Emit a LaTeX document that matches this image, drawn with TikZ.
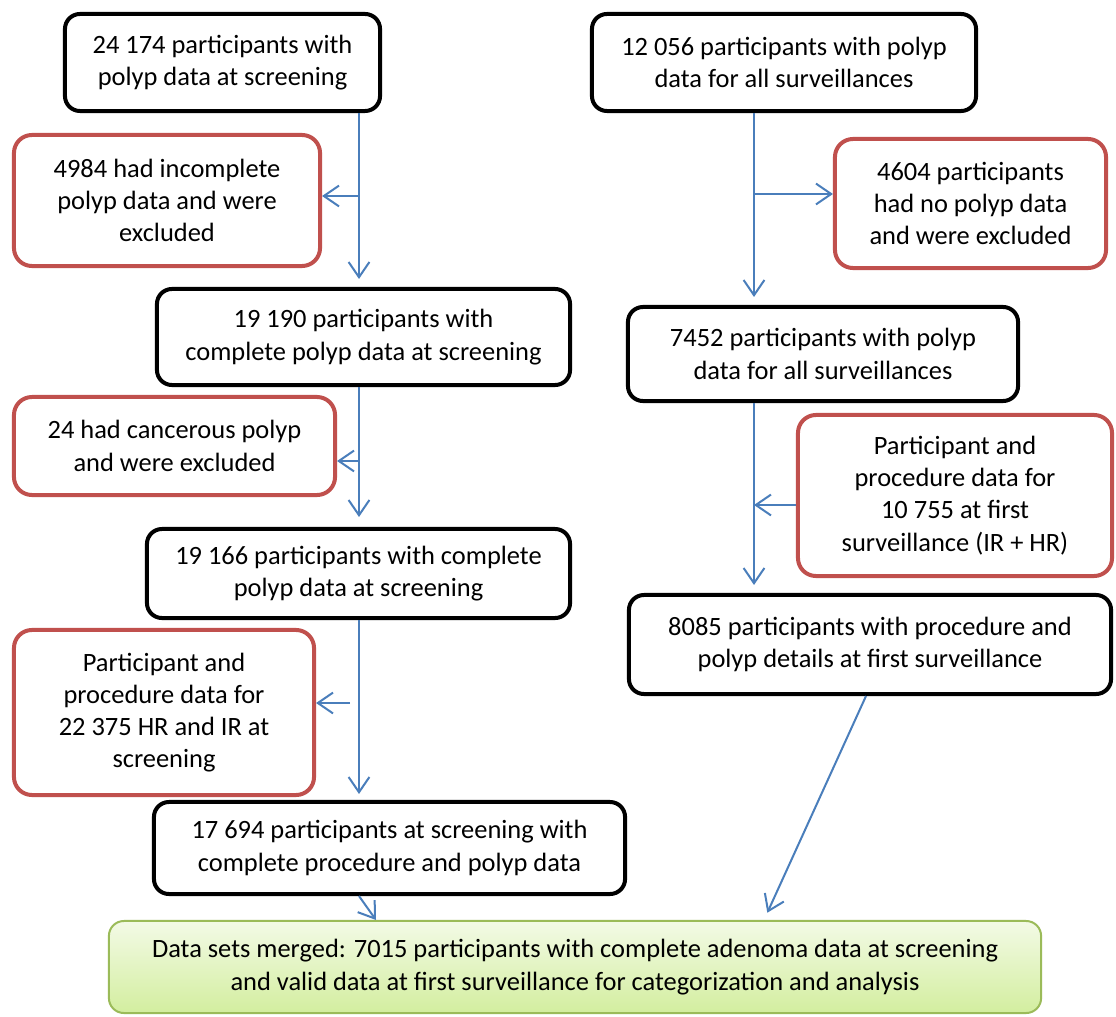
\documentclass[tikz,border=0pt]{standalone}
\usepackage{fontspec}
\setmainfont{Carlito}
\usetikzlibrary{arrows.meta}
\definecolor{flowblue}{HTML}{4A7EBB}
\definecolor{dropred}{HTML}{C0504D}
\definecolor{mergeline}{HTML}{9BBB59}
\definecolor{mergetop}{HTML}{F3FAE6}
\definecolor{mergebot}{HTML}{D3EE9F}
\tikzset{stage/.style={rectangle, rounded corners=0.375cm, line width=0.1cm, draw=black, align=center, inner sep=0pt}}
\tikzset{drop/.style={rectangle, rounded corners=0.45cm, line width=0.1cm, draw=dropred, align=center, inner sep=0pt}}
\tikzset{merged/.style={rectangle, rounded corners=0.375cm, line width=0.05cm, draw=mergeline, top color=mergetop, bottom color=mergebot, align=center, inner sep=0pt}}
\tikzset{flow/.style={draw=flowblue, line width=0.05cm, -{Straight Barb[length=0.38cm, width=0.52cm]}}}

\begin{document}
\begin{tikzpicture}[x=0.025cm, y=-0.025cm, font=\fontsize{18.8}{22.9}\selectfont]

    \useasboundingbox (0,0) rectangle (1116,1017);

    \node[stage, minimum width=7.875cm, minimum height=2.425cm] (scr1) at (222.5,62.5) {24 174 participants with\\polyp data at screening};
    \node[drop, minimum width=7.65cm, minimum height=3.275cm] (exc1) at (167,200.5) {4984 had incomplete\\polyp data and were\\excluded};
    \node[stage, minimum width=10.325cm, minimum height=2.4cm] (scr2) at (363.5,337) {19 190 participants with\\complete polyp data at screening};
    \node[drop, minimum width=8.025cm, minimum height=2.45cm] (exc2) at (174.5,446) {24 had cancerous polyp\\and were excluded};
    \node[stage, minimum width=10.575cm, minimum height=2.225cm] (scr3) at (358.5,573.5) {19 166 participants with complete\\polyp data at screening};
    \node[drop, minimum width=7.5cm, minimum height=4.125cm] (exc3) at (164,712.5) {Participant and\\procedure data for\\22 375 HR and IR at\\screening};
    \node[stage, minimum width=11.775cm, minimum height=2.3cm] (scr4) at (389.5,848) {17 694 participants at screening with\\complete procedure and polyp data};

    \node[stage, minimum width=9.6cm, minimum height=2.425cm] (sur1) at (784,62.5) {12 056 participants with polyp\\data for all surveillances};
    \node[drop, minimum width=6.775cm, minimum height=3.225cm] (exc5) at (970.5,203.5) {4604 participants\\had no polyp data\\and were excluded};
    \node[stage, minimum width=9.75cm, minimum height=2.35cm] (sur2) at (823,354) {7452 participants with polyp\\data for all surveillances};
    \node[drop, minimum width=7.85cm, minimum height=4.025cm] (add6) at (955,495.5) {Participant and\\procedure data for\\10 755 at first\\surveillance (IR + HR)};
    \node[stage, minimum width=12.05cm, minimum height=2.475cm] (sur3) at (870,644.5) {8085 participants with procedure and\\polyp details at first surveillance};

    \node[merged, minimum width=23.3cm, minimum height=2.3cm] (merge) at (575,967) {Data sets merged: 7015 participants with complete adenoma data at screening\\and valid data at first surveillance for categorization and analysis};

    \coordinate (lcol) at (359,0);
    \coordinate (rcol) at (754,0);
    \coordinate (j1) at (359,196);
    \coordinate (j2) at (359,461);
    \coordinate (j3) at (350,703);
    \coordinate (j5) at (754,194);
    \coordinate (j6) at (754,505);
    \coordinate (d1) at (376,0);
    \coordinate (d2) at (866,0);
    \coordinate (d3) at (764,0);

    \draw[flow, shorten >=0.2cm] (scr1.south -| lcol) -- (scr2.north -| lcol);
    \draw[flow] (j1) -- (exc1.east |- j1);
    \draw[flow, shorten >=0.25cm] (scr2.south -| lcol) -- (scr3.north -| lcol);
    \draw[flow] (j2) -- (exc2.east |- j2);
    \draw[flow, shorten >=0.15cm] (scr3.south -| lcol) -- (scr4.north -| lcol);
    \draw[flow] (j3) -- (exc3.east |- j3);
    \draw[flow] (scr4.south -| lcol) -- (merge.north -| d1);

    \draw[flow, shorten >=0.2cm] (sur1.south -| rcol) -- (sur2.north -| rcol);
    \draw[flow] (j5) -- (exc5.west |- j5);
    \draw[flow, shorten >=0.2cm] (sur2.south -| rcol) -- (sur3.north -| rcol);
    \draw[flow] (add6.west |- j6) -- (j6);
    \draw[flow, shorten >=0.2cm] (sur3.south -| d2) -- (merge.north -| d3);

  \end{tikzpicture}
\end{document}
